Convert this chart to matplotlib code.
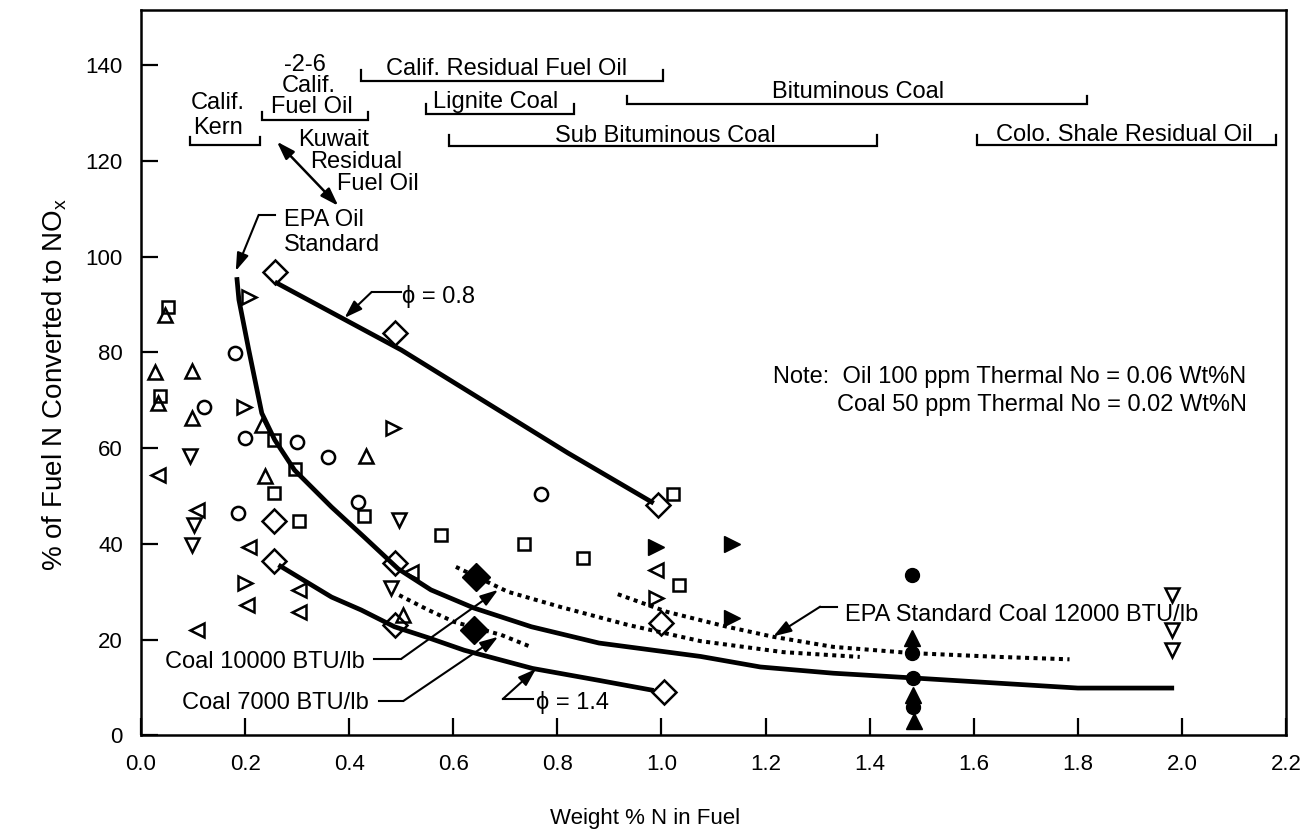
import matplotlib
matplotlib.use('Agg')
import matplotlib.pyplot as plt
import numpy as np

plt.rcParams['font.family'] = ['Liberation Sans', 'DejaVu Sans']

# ---------------- data ----------------
tri_up_x = [0.046, 0.027, 0.098, 0.033, 0.098, 0.232, 0.433, 0.238, 0.504]
tri_up_y = [87.8, 75.9, 76.1, 69.4, 66.3, 64.8, 58.3, 54.2, 25.2]

tri_down_x = [0.094, 0.102, 0.098, 0.496, 0.481, 1.981, 1.981, 1.981]
tri_down_y = [58.3, 43.9, 39.8, 45.0, 30.8, 29.3, 22.0, 17.8]

tri_right_x = [0.207, 0.197, 0.485, 0.199, 0.989]
tri_right_y = [91.5, 68.6, 64.2, 31.8, 28.7]

tri_left_x = [0.033, 0.107, 0.207, 0.519, 0.303, 0.203, 0.303, 0.107, 0.990]
tri_left_y = [54.4, 47.1, 39.4, 34.1, 30.4, 27.2, 25.8, 22.0, 34.6]

circle_x = [0.180, 0.121, 0.199, 0.299, 0.360, 0.416, 0.186, 0.768]
circle_y = [79.8, 68.6, 62.1, 61.3, 58.1, 48.7, 46.5, 50.4]

square_x = [0.052, 0.036, 0.255, 0.295, 0.255, 0.429, 0.303, 0.577, 0.736, 0.849, 1.023, 1.034]
square_y = [89.5, 70.9, 61.7, 55.6, 50.6, 45.8, 44.8, 41.9, 40.0, 37.1, 50.4, 31.4]

diamond_x = [0.257, 0.487, 0.255, 0.255, 0.487, 0.487, 0.994, 1.000, 1.004]
diamond_y = [96.8, 84.0, 44.8, 36.4, 36.0, 23.1, 48.1, 23.5, 9.1]

fdiamond_x = [0.644, 0.640]
fdiamond_y = [33.1, 22.0]

ftri_right_x = [0.989, 1.136, 1.136]
ftri_right_y = [39.4, 40.0, 24.5]

fcircle_x = [1.481, 1.482, 1.483, 1.484]
fcircle_y = [33.6, 17.3, 12.0, 5.9]

ftri_up_x = [1.482, 1.484, 1.485]
ftri_up_y = [20.3, 8.5, 3.0]

# curves
phi08_x = [0.257, 0.500, 0.820, 0.985]
phi08_y = [94.7, 80.5, 59.0, 48.5]

epa_oil_x = [0.184, 0.188, 0.207, 0.232, 0.257, 0.295, 0.366, 0.429, 0.494, 0.557,
             0.640, 0.750, 0.880, 1.075, 1.190, 1.330, 1.485, 1.650, 1.800, 1.985]
epa_oil_y = [95.7, 91.0, 80.5, 67.3, 61.7, 55.4, 47.7, 41.4, 34.8, 30.4,
             26.6, 22.7, 19.3, 16.5, 14.3, 13.0, 12.0, 10.9, 9.9, 9.9]

phi14_x = [0.264, 0.366, 0.423, 0.487, 0.552, 0.621, 0.752, 0.880, 0.985]
phi14_y = [35.6, 28.9, 26.2, 22.7, 20.4, 17.8, 14.0, 11.5, 9.4]

coal10k_x = [0.605, 0.705, 0.807, 0.935, 1.075, 1.234, 1.381]
coal10k_y = [35.2, 30.0, 26.8, 23.1, 19.7, 17.4, 16.4]

coal7k_x = [0.496, 0.552, 0.602, 0.692, 0.749]
coal7k_y = [29.3, 26.2, 23.7, 21.0, 18.5]

epa_coal_x = [0.916, 1.011, 1.126, 1.215, 1.330, 1.481, 1.649, 1.784]
epa_coal_y = [29.5, 25.8, 22.7, 20.6, 18.5, 17.2, 16.4, 15.9]

# fuel range brackets: (x0, x1, y_base, y_top)
brackets = [
    (0.094, 0.228, 123.3, 125.0),
    (0.232, 0.437, 128.6, 130.2),
    (0.423, 1.002, 136.6, 138.9),
    (0.548, 0.831, 129.7, 131.8),
    (0.933, 1.818, 131.9, 133.6),
    (0.592, 1.414, 123.1, 125.3),
    (1.607, 2.180, 123.3, 125.3),
]

xticks = [0.0, 0.2, 0.4, 0.6, 0.8, 1.0, 1.2, 1.4, 1.6, 1.8, 2.0, 2.2]
yticks = [0, 20, 40, 60, 80, 100, 120, 140]

# ---------------- figure ----------------
fig = plt.figure(figsize=(13.06, 8.30), dpi=100)
ax = fig.add_axes([0.1080, 0.1139, 0.8767, 0.8741])
ax.set_xlim(0, 2.2)
ax.set_ylim(0, 151.5)

# curves
solid_kw = dict(color='black', lw=3.4, solid_capstyle='butt', solid_joinstyle='round', zorder=2)
dot_kw = dict(color='black', lw=2.9, linestyle=(0, (1, 1.1)), dash_capstyle='butt', zorder=2)
ax.plot(phi08_x, phi08_y, **solid_kw)
ax.plot(epa_oil_x, epa_oil_y, **solid_kw)
ax.plot(phi14_x, phi14_y, **solid_kw)
ax.plot(coal10k_x, coal10k_y, **dot_kw)
ax.plot(coal7k_x, coal7k_y, **dot_kw)
ax.plot(epa_coal_x, epa_coal_y, **dot_kw)

# markers
op = dict(ls='none', mfc='none', mec='black', mew=1.8, zorder=3)
ax.plot(tri_up_x, tri_up_y, marker='^', ms=10.5, **op)
ax.plot(tri_down_x, tri_down_y, marker='v', ms=10.5, **op)
ax.plot(tri_right_x, tri_right_y, marker='>', ms=10.5, **op)
ax.plot(tri_left_x, tri_left_y, marker='<', ms=10.5, **op)
ax.plot(circle_x, circle_y, marker='o', ms=9.5, **op)
ax.plot(square_x, square_y, marker='s', ms=9, **op)
ax.plot(diamond_x, diamond_y, marker='D', ms=12.5, **op)
fl = dict(ls='none', color='black', zorder=3)
ax.plot(fdiamond_x, fdiamond_y, marker='D', ms=14, **fl)
ax.plot(ftri_right_x, ftri_right_y, marker='>', ms=11, **fl)
ax.plot(fcircle_x, fcircle_y, marker='o', ms=10, **fl)
ax.plot(ftri_up_x, ftri_up_y, marker='^', ms=11, **fl)

# brackets
for x0, x1, yb, yt in brackets:
    ax.plot([x0, x0, x1, x1], [yt, yb, yb, yt], color='black', lw=1.6,
            solid_joinstyle='miter', zorder=2)

# text
fs = 17
def txt(x, y, s, ha='left'):
    ax.text(x, y, s, ha=ha, va='baseline', fontsize=fs, zorder=4)

txt(0.148, 130.9, "Calif.", 'center')
txt(0.148, 125.7, "Kern", 'center')
txt(0.315, 138.7, "-2-6", 'center')
txt(0.322, 134.4, "Calif.", 'center')
txt(0.328, 130.0, "Fuel Oil", 'center')
txt(0.370, 123.0, "Kuwait", 'center')
txt(0.414, 118.5, "Residual", 'center')
txt(0.456, 113.9, "Fuel Oil", 'center')
txt(0.703, 137.9, "Calif. Residual Fuel Oil", 'center')
txt(0.682, 131.0, "Lignite Coal", 'center')
txt(1.377, 133.1, "Bituminous Coal", 'center')
txt(1.008, 124.0, "Sub Bituminous Coal", 'center')
txt(1.889, 124.1, "Colo. Shale Residual Oil", 'center')

txt(0.274, 106.4, "EPA Oil")
txt(0.274, 101.2, "Standard")
txt(0.502, 90.4, "ϕ = 0.8")
txt(0.759, 5.6, "ϕ = 1.4")
txt(0.429, 14.0, "Coal 10000 BTU/lb", 'right')
txt(0.437, 5.6, "Coal 7000 BTU/lb", 'right')
txt(1.352, 24.0, "EPA Standard Coal 12000 BTU/lb")
txt(2.123, 73.5, "Note:  Oil 100 ppm Thermal No = 0.06 Wt%N", 'right')
txt(2.125, 67.8, "Coal 50 ppm Thermal No = 0.02 Wt%N", 'right')

# leaders with arrows
def leader(pts):
    xs = [p[0] for p in pts[:-1]]
    ys = [p[1] for p in pts[:-1]]
    if len(pts) > 2:
        ax.plot(xs, ys, color='black', lw=1.5, zorder=4)
    ax.annotate('', xy=pts[-1], xytext=pts[-2],
                arrowprops=dict(arrowstyle='-|>,head_length=0.9,head_width=0.3',
                                color='black', lw=1.5, shrinkA=0, shrinkB=0,
                                mutation_scale=12), zorder=4)

leader([(0.257, 108.7), (0.226, 108.7), (0.182, 97.0)])
leader([(0.500, 92.6), (0.443, 92.6), (0.391, 87.2)])
leader([(0.753, 7.6), (0.695, 7.6), (0.759, 13.9)])
leader([(0.448, 16.0), (0.500, 16.0), (0.686, 30.4)])
leader([(0.458, 7.2), (0.504, 7.2), (0.686, 20.6)])
leader([(1.337, 26.9), (1.305, 26.9), (1.215, 20.7)])
ax.annotate('', xy=(0.261, 124.0), xytext=(0.379, 110.6),
            arrowprops=dict(arrowstyle='<|-|>,head_length=0.9,head_width=0.3',
                            color='black', lw=1.8, shrinkA=0, shrinkB=0,
                            mutation_scale=12), zorder=4)

# axes styling
ax.set_xticks(xticks)
ax.set_xticklabels([f"{v:.1f}" for v in xticks])
ax.set_yticks(yticks)
ax.set_yticklabels([str(v) for v in yticks])
ax.tick_params(direction='in', length=12, width=1.6, labelsize=16, pad=13,
               top=False, right=False)
for sp in ax.spines.values():
    sp.set_linewidth(1.8)

fig.text(645 / 1306, 1 - 818 / 830, "Weight % N in Fuel", ha='center', va='center',
         fontsize=16)
fig.text(55 / 1306, 1 - 385 / 830, "% of Fuel N Converted to NO$_\\mathregular{x}$",
         ha='center', va='center', rotation=90, fontsize=20)

fig.savefig('out.png', dpi=100)
